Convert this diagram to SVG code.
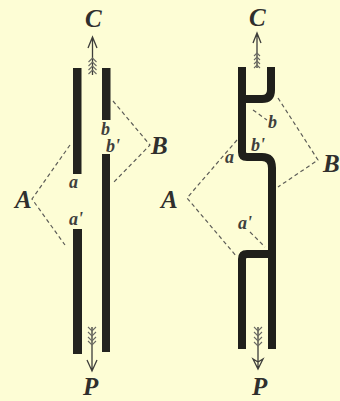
<svg xmlns="http://www.w3.org/2000/svg" width="340" height="401" viewBox="0 0 340 401">
<style>
text{font-family:"Liberation Serif","DejaVu Serif",serif;font-style:italic;font-weight:bold;fill:#2f2f2d}
.big{font-size:25px}
.sm{font-size:18px;fill:#3f3f3c}
.bar{fill:#23231f}
.thick{fill:none;stroke:#1f1f1b;stroke-width:8;stroke-linejoin:round}
.dash{fill:none;stroke:#5d5d58;stroke-width:1.2;stroke-dasharray:4 3}
.ar{fill:none;stroke:#3d3d3a;stroke-width:1.3}
.fl{fill:none;stroke:#6a6a64;stroke-width:1.1}
</style>
<rect width="340" height="401" fill="#fdfdd5"/>
<g id="connectors">
<path class="dash" d="M70 145L32 199L65 245"/>
<path class="dash" d="M113 101L150 145L113 183"/>
<path class="dash" d="M237 140L187 198L237 257"/>
<path class="dash" d="M278 98L318 160L278 187"/>
<path class="dash" d="M253 110L267 120"/>
<path class="dash" d="M250 232L265 247"/>
</g>
<g id="arrow-c-left">
<path class="ar" d="M92.500 75V37M88 48L92.500 37L97 48"/>
<path class="fl" d="M88.500 62L92.500 58L96.500 62M88.500 66L92.500 62L96.500 66M88.500 70L92.500 66L96.500 70M88.500 74L92.500 70L96.500 74"/>
</g>
<g id="arrow-p-left">
<path class="ar" d="M92 327V371M87 360L92 371L97 360"/>
<path class="fl" d="M88 327L92 331L96 327M88 332L92 336L96 332M88 337L92 341L96 337M88 341L92 345L96 341"/>
</g>
<g id="arrow-c-right">
<path class="ar" d="M257 68V33M253 43L257 33L261 43"/>
<path class="fl" d="M254 56L257 53L260 56M254 60L257 57L260 60M254 64L257 61L260 64M254 68L257 65L260 68"/>
</g>
<g id="arrow-p-right">
<path class="ar" d="M258 327V368M253 359L258 369L263 359L258 362Z"/>
<path class="fl" d="M254 327L258 331L262 327M254 332L258 336L262 332M254 337L258 341L262 337M254 342L258 346L262 342"/>
</g>
<g id="bars-left">
<rect class="bar" x="73" y="68" width="8.500" height="106"/>
<rect class="bar" x="102" y="68" width="8.500" height="52"/>
<rect class="bar" x="102" y="154" width="8" height="198"/>
<rect class="bar" x="73" y="229" width="9" height="125"/>
</g>
<g id="pipe-right">
<path class="thick" d="M242 67V152Q242 157 247 157H262Q272 157 272 168V349"/>
<path class="thick" d="M242 99H262Q271 99 271 90V67"/>
<path class="thick" d="M242 349V259Q242 254 247 254H272"/>
</g>
<g id="labels-left">
<text class="big" x="85" y="27">C</text>
<text class="big" x="151" y="154">B</text>
<text class="big" x="15" y="208">A</text>
<text class="big" x="83" y="395">P</text>
<text class="sm" x="101" y="135">b</text>
<text class="sm" x="106" y="152">b'</text>
<text class="sm" x="69" y="188">a</text>
<text class="sm" x="69" y="225">a'</text>
</g>
<g id="labels-right">
<text class="big" x="249" y="26">C</text>
<text class="big" x="323" y="172">B</text>
<text class="big" x="161" y="208">A</text>
<text class="big" x="252" y="395">P</text>
<text class="sm" x="268" y="128">b</text>
<text class="sm" x="251" y="151">b'</text>
<text class="sm" x="225" y="163">a</text>
<text class="sm" x="238" y="229">a'</text>
</g>
</svg>
